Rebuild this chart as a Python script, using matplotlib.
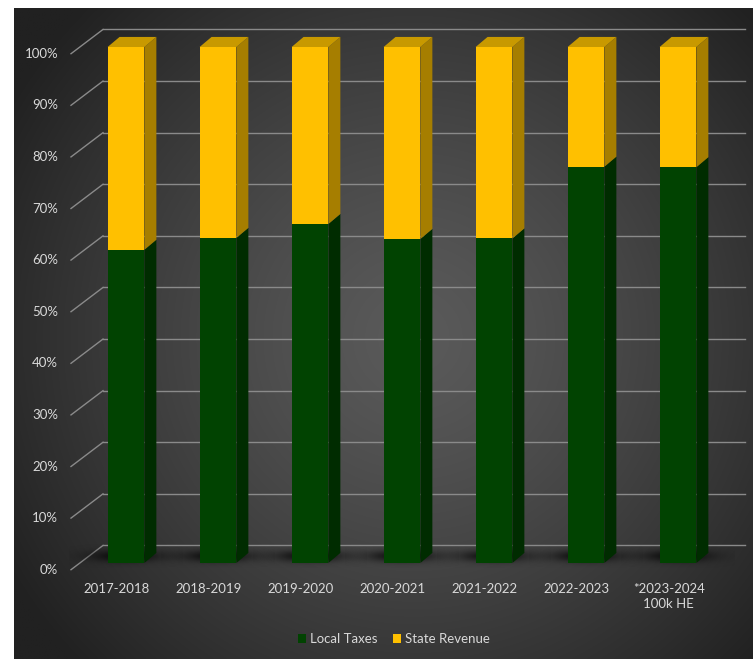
import numpy as np
import matplotlib.pyplot as plt
from matplotlib.patches import Polygon, Patch

plt.rcParams['font.family'] = ['Lato', 'DejaVu Sans']

years = ['2017-2018', '2018-2019', '2019-2020', '2020-2021', '2021-2022',
         '2022-2023', '*2023-2024\n100k HE']
local_taxes = [60.7, 63.0, 65.7, 62.8, 62.9, 76.8, 76.7]
state_revenue = [100 - v for v in local_taxes]
pct_ticks = [0, 10, 20, 30, 40, 50, 60, 70, 80, 90, 100]

green = '#014301'
green_side = '#002c00'
gold = '#ffc000'
gold_side = '#a67e00'
gold_top = '#c89900'
text_col = '#d9d9d9'
grid_col = '#8a8a8a'

# bar geometry (category units / percent units)
w = 0.40
dx, dy = 0.13, 1.95
back_dy = 3.4

W, H = 753, 659
fig = plt.figure(figsize=(W / 100, H / 100), dpi=100)
ax = fig.add_axes([14 / W, 0, 739 / W, 651 / H])
x0, x1 = (14 - 126) / 92, (753 - 126) / 92
y0, y1 = (563 - 659) / 5.16, (563 - 8) / 5.16
ax.axis('off')

# radial gradient background
gx, gy = np.meshgrid(np.linspace(0, 739, 400), np.linspace(0, 651, 360))
r = np.sqrt((gx - 400) ** 2 + (gy - 330) ** 2) / 470
r = np.clip(r, 0, 1)
shade = (0x5a * (1 - r ** 1.3) + 0x21 * r ** 1.3) / 255
ax.imshow(np.dstack([shade] * 3), extent=[x0, x1, y0, y1], aspect='auto',
          origin='upper', zorder=0, interpolation='bilinear')

# back wall gridlines and diagonal floor/side lines
xs_front = (71 - 126) / 92
xs_back = (103 - 126) / 92
xe_back = (745 - 126) / 92
for p in pct_ticks:
    ax.plot([xs_front, xs_back], [p - 1.3, p + back_dy], color=grid_col, lw=1, zorder=1)
    ax.plot([xs_back, xe_back], [p + back_dy, p + back_dy], color=grid_col, lw=1, zorder=1)
    ax.text(xs_front - 0.14, p - 1.3, f'{p}%', ha='right', va='center',
            color=text_col, fontsize=9.5, zorder=5)

# soft shadows on the floor
sx, sy = np.meshgrid(np.linspace(-1, 1, 120), np.linspace(-1, 1, 40))
alpha = 0.8 * np.exp(-(sx / 0.6) ** 2 - (sy / 0.5) ** 2)
shadow = np.zeros((40, 120, 4))
shadow[..., 3] = alpha
for i in range(len(years)):
    ax.imshow(shadow, extent=[i - 0.62, i + 0.48 + dx, -1.0, 3.6], aspect='auto',
              zorder=2, interpolation='bilinear')
ax.set_xlim(x0, x1)
ax.set_ylim(y0, y1)

xpos = np.arange(len(years))
ax.bar(xpos, local_taxes, width=w, color=green, zorder=3, linewidth=0)
ax.bar(xpos, state_revenue, width=w, bottom=local_taxes, color=gold, zorder=3, linewidth=0)

for i, (lo, hi) in enumerate(zip(local_taxes, state_revenue)):
    xr = i + w / 2
    xl = i - w / 2
    top = lo + hi
    ax.add_patch(Polygon([(xr, 0), (xr + dx, dy), (xr + dx, lo + dy), (xr, lo)],
                         closed=True, facecolor=green_side, lw=0, zorder=3))
    ax.add_patch(Polygon([(xr, lo), (xr + dx, lo + dy), (xr + dx, top + dy), (xr, top)],
                         closed=True, facecolor=gold_side, lw=0, zorder=3))
    ax.add_patch(Polygon([(xl, top), (xr, top), (xr + dx, top + dy), (xl + dx, top + dy)],
                         closed=True, facecolor=gold_top, lw=0, zorder=3))

for i, lab in enumerate(years):
    ax.text(i - 0.1, -3.9, lab, ha='center', va='top', color=text_col,
            fontsize=9.5, linespacing=1.25, zorder=5)

handles = [Patch(facecolor=green, label='Local Taxes'),
           Patch(facecolor=gold, label='State Revenue')]
leg = fig.legend(handles=handles, loc='center', bbox_to_anchor=(394 / W, 1 - 639 / H),
                 ncol=2, frameon=False, fontsize=9.5, handlelength=0.6,
                 handleheight=0.6, handletextpad=0.3, columnspacing=1.2)
for t in leg.get_texts():
    t.set_color(text_col)

fig.savefig('out.png', dpi=100, facecolor='white')
